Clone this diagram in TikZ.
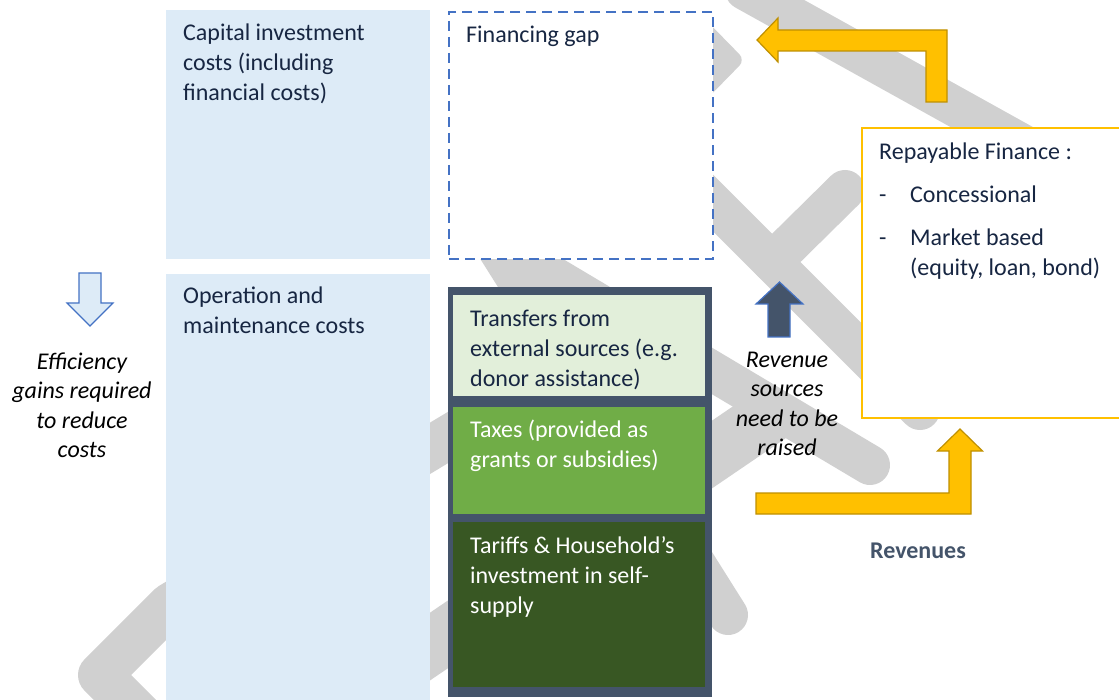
\documentclass[tikz,border=0pt]{standalone}
\usepackage{fontspec}
\setmainfont{Carlito}
\definecolor{wmgrey}{RGB}{208,208,208}
\definecolor{lblue}{RGB}{221,235,247}
\definecolor{dashblue}{RGB}{68,114,196}
\definecolor{slate}{RGB}{68,84,106}
\definecolor{lgreen}{RGB}{226,239,218}
\definecolor{mgreen}{RGB}{112,173,71}
\definecolor{dgreen}{RGB}{56,87,35}
\definecolor{gold}{RGB}{255,192,0}
\definecolor{golddark}{RGB}{191,144,0}
\definecolor{navytext}{RGB}{23,38,66}
\begin{document}
\begin{tikzpicture}[x=1pt,y=-1pt,
  wmband/.style={draw=wmgrey,line width=40pt,line cap=round,line join=round},
  panel/.style={anchor=north west,inner sep=0pt,outer sep=0pt,draw=none},
  txt/.style={inner sep=0pt,anchor=north west,align=left,font=\fontsize{24}{30}\selectfont,text=navytext},
  itxt/.style={inner sep=0pt,anchor=north,align=center,font=\fontsize{24}{29.5}\selectfont\itshape,text=black},
  goldarrow/.style={fill=gold,draw=golddark,line width=1.2pt,line join=miter},
  blockarrow/.style={draw=dashblue,line width=1.2pt}]
\useasboundingbox (0,0) rectangle (1119,700);
\fill[white] (0,0) rectangle (1119,700);
% watermark
\draw[wmband] (745,-10) -- (1060,165);
\fill[wmgrey,rounded corners=8pt] (700,14) -- (745,60) -- (700,106) -- cycle;
\draw[wmband] (690,180) -- (920,410);
\draw[wmband] (845,190) -- (772,262);
\draw[wmband] (728,615) -- (492,240) -- (870,465);
\draw[wmband,line width=44pt] (560,370) -- (170,605) -- (100,675) -- (140,715);
\draw[wmband,line width=56pt] (770,415) -- (400,667);
% panels
\node[panel,fill=lblue,minimum width=264pt,minimum height=249pt] (capital) at (166,10) {};
\node[panel,fill=lblue,minimum width=264pt,minimum height=440pt] (opm) at (166,274) {};
\node[panel,fill=white,draw=dashblue,line width=1.8pt,dash pattern=on 10pt off 6pt,minimum width=264pt,minimum height=247pt] (gap) at (449,12) {};
\node[panel,fill=slate,minimum width=264pt,minimum height=410pt] (frame) at (448,287) {};
\node[panel,fill=lgreen,minimum width=252pt,minimum height=101pt] (transfers) at (453,295) {};
\node[panel,fill=mgreen,minimum width=252pt,minimum height=107pt] (taxes) at (453,407) {};
\node[panel,fill=dgreen,minimum width=252pt,minimum height=165pt] (tariffs) at (453,522) {};
\node[panel,fill=white,draw=gold,line width=2pt,minimum width=270pt,minimum height=290pt] (repay) at (862,128) {};
% arrows
\filldraw[blockarrow,fill=lblue] (79,273) -- (101,273) -- (101,303) -- (113,303) -- (90,326) -- (67,303) -- (79,303) -- cycle;
\filldraw[blockarrow,fill=slate] (768,337) -- (790,337) -- (790,304) -- (803,304) -- (779.5,282) -- (756,304) -- (768,304) -- cycle;
\filldraw[goldarrow] (947,30) -- (778,30) -- (778,18) -- (757,40) -- (778,62) -- (778,51) -- (926,51) -- (926,102) -- (947,102) -- cycle;
\filldraw[goldarrow] (756,493) -- (949,493) -- (949,451) -- (937.5,451) -- (960,429) -- (982.5,451) -- (971,451) -- (971,514) -- (756,514) -- cycle;
% texts
\node[txt] (captext) at (183,19) {\strut Capital investment\\costs (including\\financial costs)};
\node[txt] (optext) at (183,282) {\strut Operation and\\maintenance costs};
\node[txt] (gaptext) at (466,21) {\strut Financing gap};
\node[txt] (trtext) at (470,305) {\strut Transfers from\\external sources (e.g.\\donor assistance)};
\node[txt,text=white] (taxtext) at (470,416) {\strut Taxes (provided as\\grants or subsidies)};
\node[txt,text=white] (tartext) at (470,532) {\strut Tariffs \& Household’s\\investment in self-\\supply};
\node[txt] (reptext) at (879,138) {\strut Repayable Finance :\\[13pt]\makebox[31pt][l]{-}Concessional\\[13pt]\makebox[31pt][l]{-}Market based\\\hspace*{31pt}(equity, loan, bond)};
\node[itxt] (efftext) at (82,348.35) {\strut Efficiency\\gains required\\to reduce\\costs};
\node[itxt] (revtext) at (787,346.35) {\strut Revenue\\sources\\need to be\\raised};
\node[inner sep=0pt,anchor=base,font=\fontsize{24}{30}\selectfont\bfseries,text=slate] (revenues) at (918,558) {Revenues};
\end{tikzpicture}
\end{document}
